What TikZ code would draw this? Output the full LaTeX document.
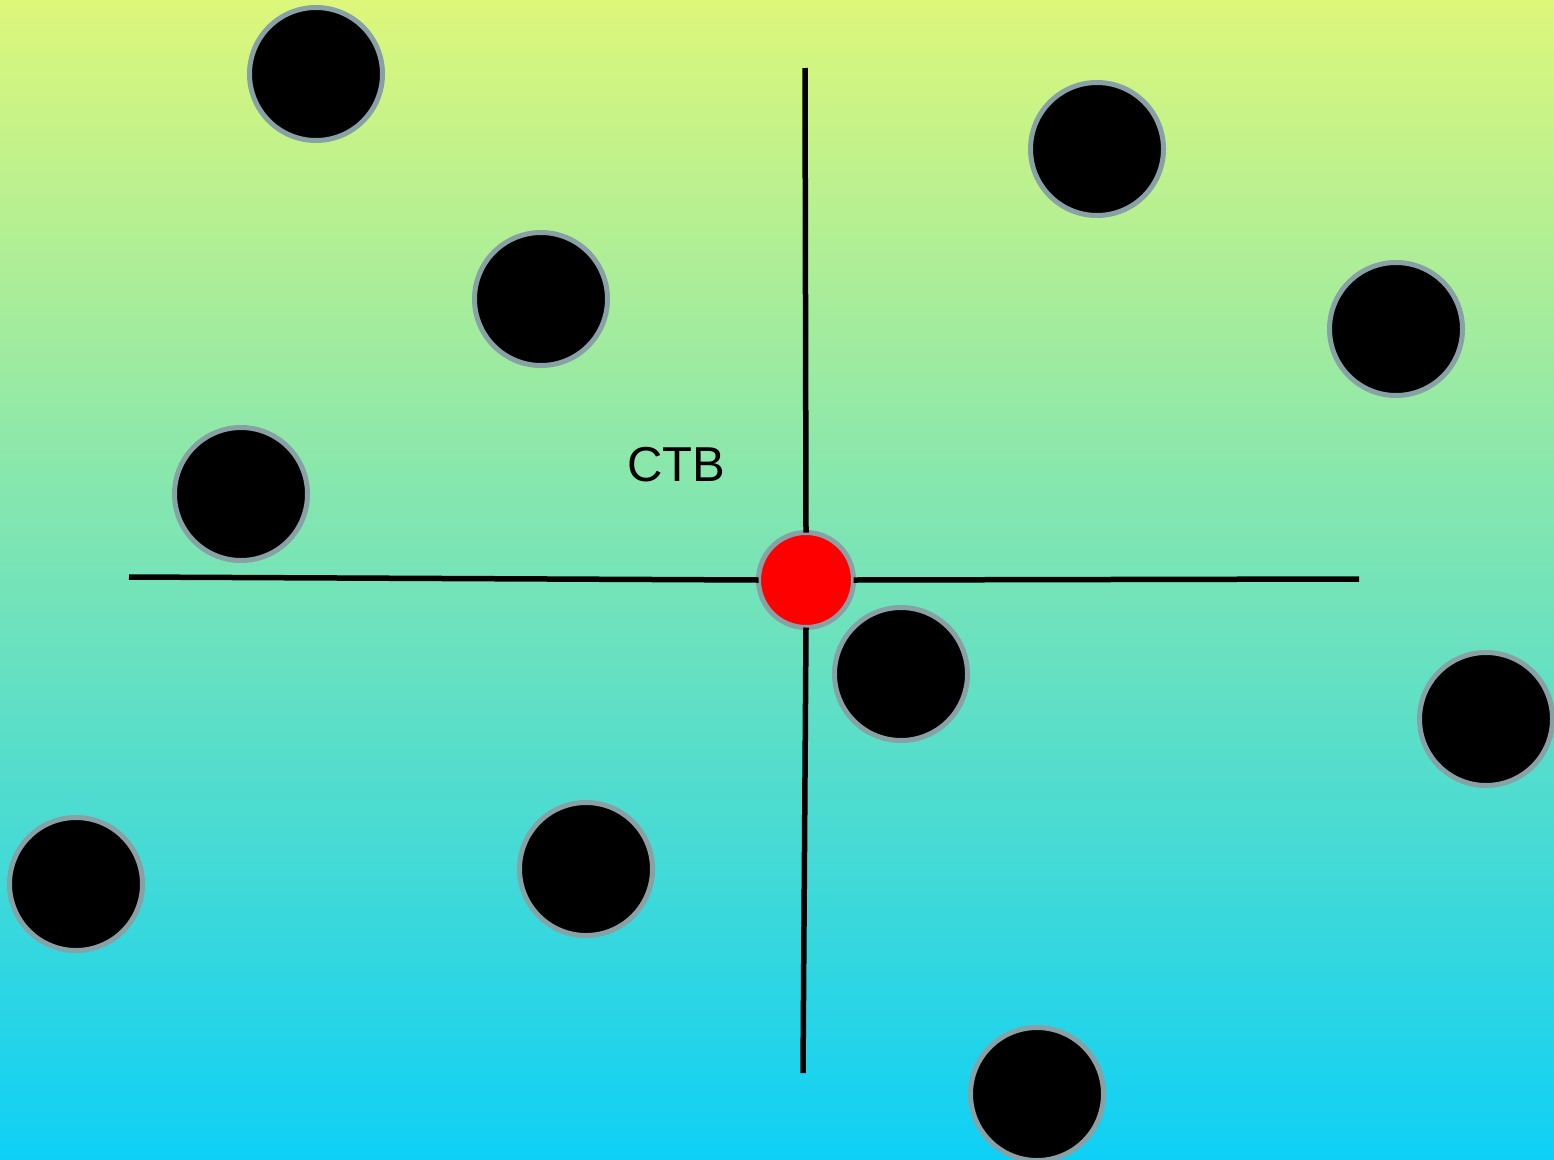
\documentclass[tikz,border=0pt]{standalone}
\usepackage{fontspec}
\setmainfont{Liberation Sans}
\definecolor{bgtop}{RGB}{221,247,122}
\definecolor{bgbot}{RGB}{14,208,246}
\definecolor{ringgray}{RGB}{135,161,165}
\begin{document}
\begin{tikzpicture}[x=1pt,y=-1pt,
  ball/.style={circle,fill=black,draw=ringgray,line width=5pt,minimum size=133pt,inner sep=0pt,outer sep=0pt},
  hub/.style={circle,fill=red,draw=ringgray,line width=5pt,minimum size=95pt,inner sep=0pt,outer sep=0pt},
  axisline/.style={line width=5.5pt,black}]
\path[use as bounding box,top color=bgtop,bottom color=bgbot] (0,0) rectangle (1554,1159);
\node[hub] (c) at (806,580) {};
\coordinate (t) at (805,68);
\coordinate (b) at (803,1073);
\coordinate (l) at (129,577);
\coordinate (r) at (1359,579);
\draw[axisline] (c.north) -- (t);
\draw[axisline] (c.south) -- (b);
\draw[axisline] (c.west) -- (l);
\draw[axisline] (c.east) -- (r);
\node[ball] (n1) at (316,74) {};
\node[ball] (n2) at (1097,149) {};
\node[ball] (n3) at (541,299) {};
\node[ball] (n4) at (1396,329) {};
\node[ball] (n5) at (241,494) {};
\node[ball] (n6) at (901,674) {};
\node[ball] (n7) at (1486,719) {};
\node[ball] (n8) at (76,884) {};
\node[ball] (n9) at (586,869) {};
\node[ball] (n10) at (1037,1094) {};
\node[font=\fontsize{49}{55}\selectfont,inner sep=0pt] (lbl) at (676,465) {CTB};
\end{tikzpicture}
\end{document}
